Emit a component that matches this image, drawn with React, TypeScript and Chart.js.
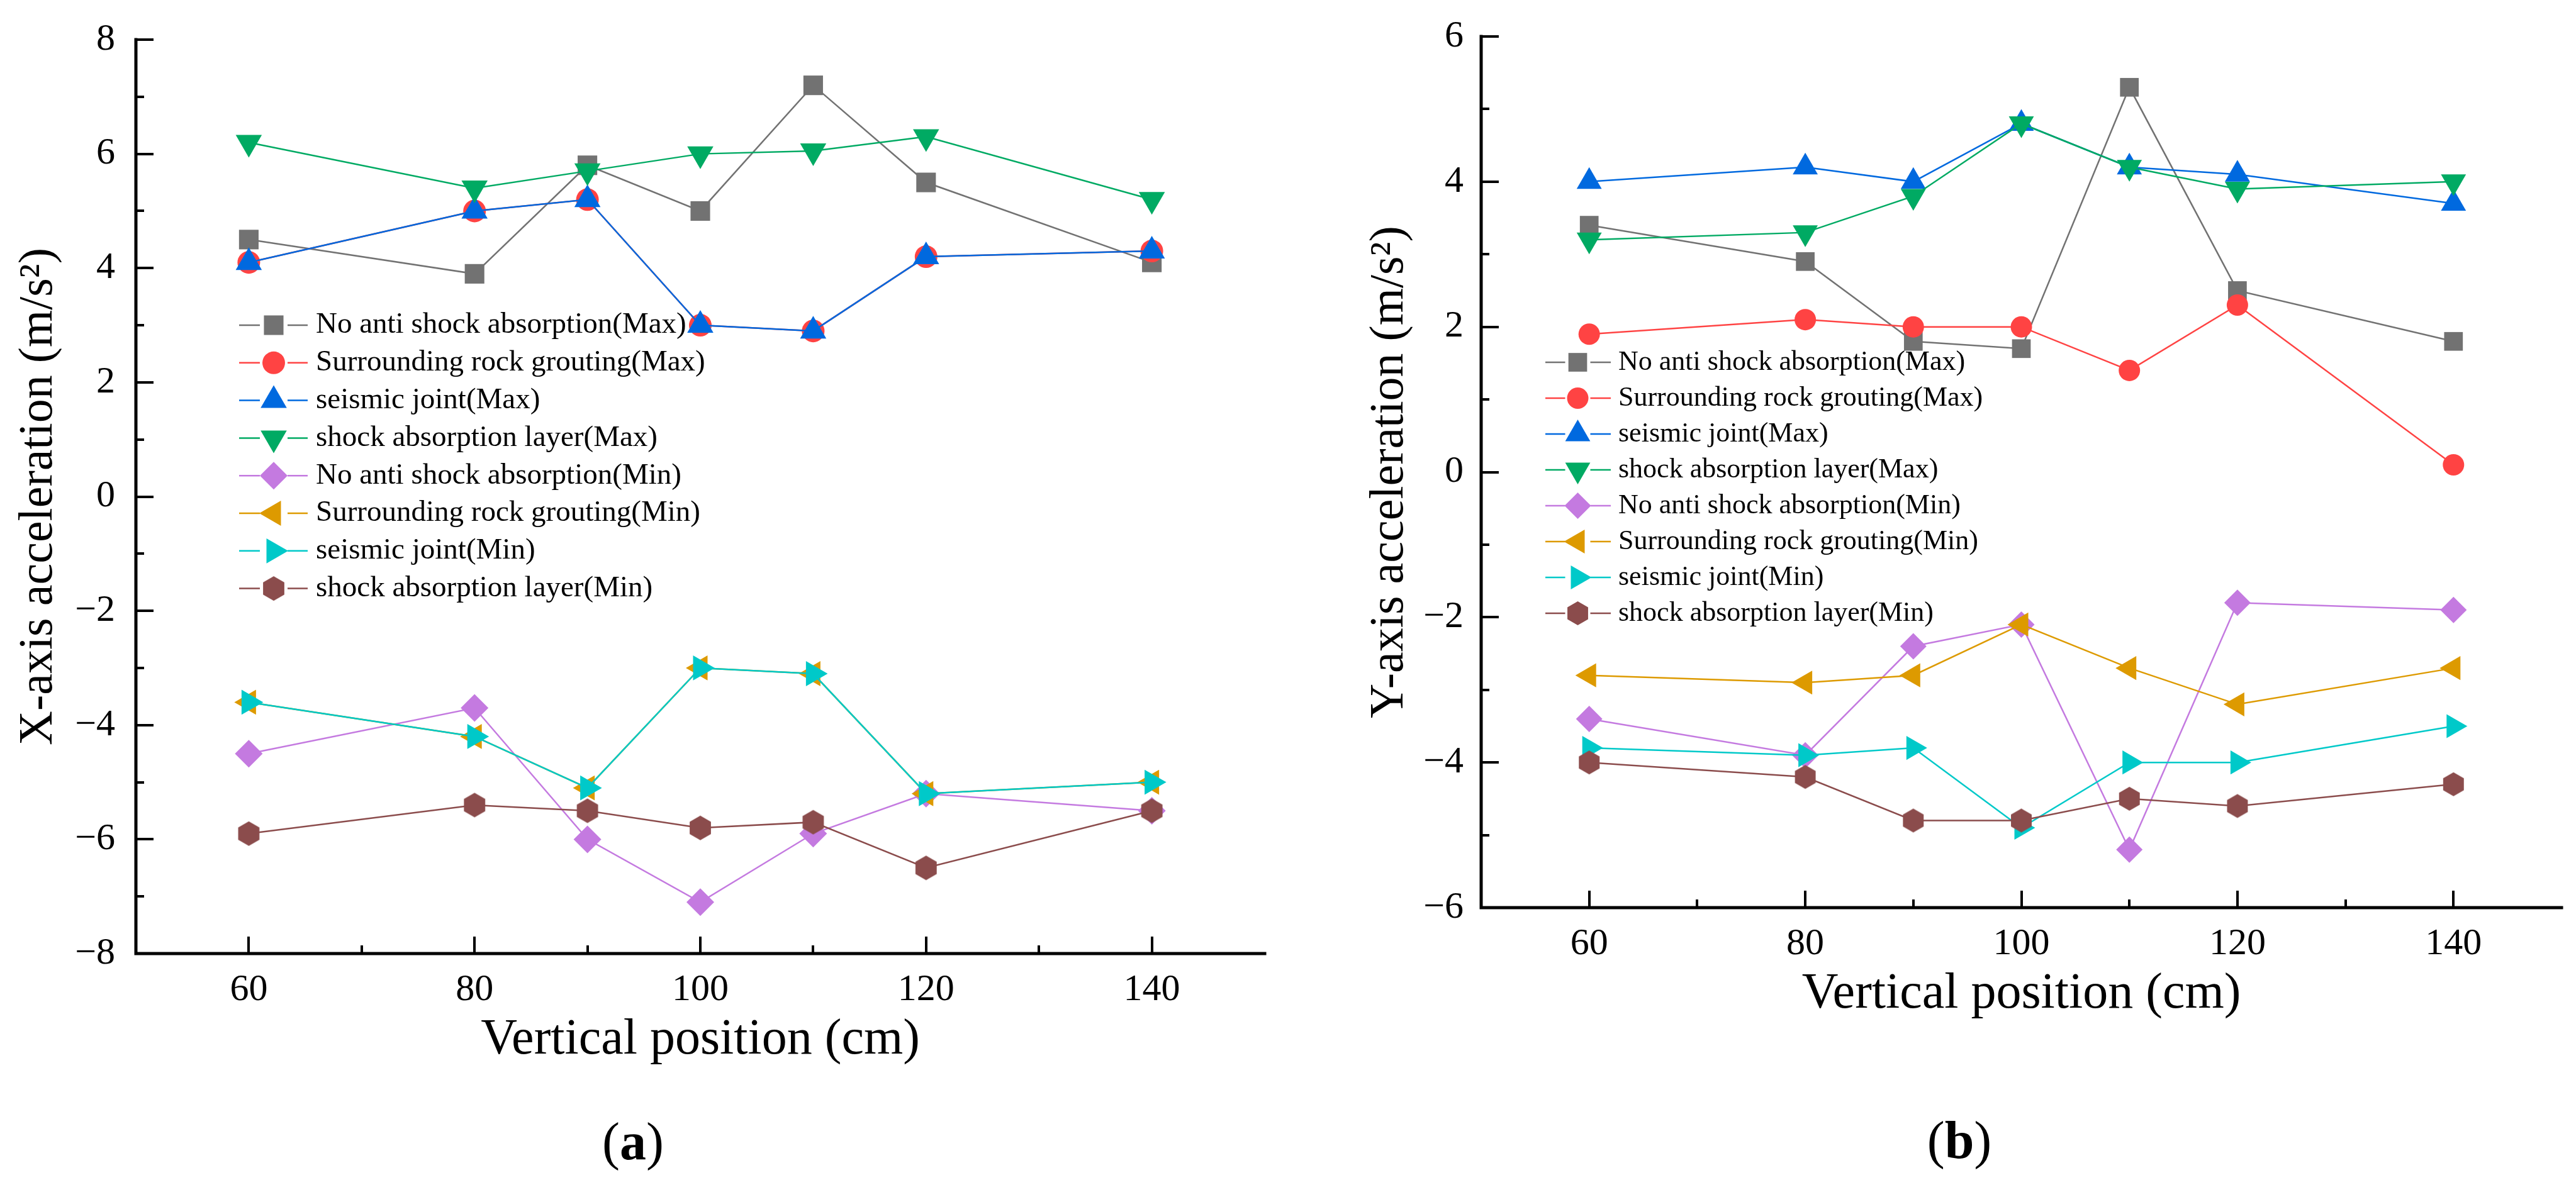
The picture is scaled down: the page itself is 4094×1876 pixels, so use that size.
import { useEffect, useRef } from 'react'
import Chart from 'chart.js/auto'
import { drawPoint } from 'chart.js/helpers'

const positions = [60, 80, 90, 100, 110, 120, 140]
const xTickValues = [60, 80, 100, 120, 140]
const xMinorTickValues = [70, 90, 110, 130]

const seriesNames = [
  'No anti shock absorption(Max)',
  'Surrounding rock grouting(Max)',
  'seismic joint(Max)',
  'shock absorption layer(Max)',
  'No anti shock absorption(Min)',
  'Surrounding rock grouting(Min)',
  'seismic joint(Min)',
  'shock absorption layer(Min)'
]

// (a) X-axis acceleration
const xNoAntiMax = [4.5, 3.9, 5.8, 5.0, 7.2, 5.5, 4.1]
const xGroutingMax = [4.1, 5.0, 5.2, 3.0, 2.9, 4.2, 4.3]
const xJointMax = [4.1, 5.0, 5.2, 3.0, 2.9, 4.2, 4.3]
const xLayerMax = [6.2, 5.4, 5.7, 6.0, 6.05, 6.3, 5.2]
const xNoAntiMin = [-4.5, -3.7, -6.0, -7.1, -5.9, -5.2, -5.5]
const xGroutingMin = [-3.6, -4.2, -5.1, -3.0, -3.1, -5.2, -5.0]
const xJointMin = [-3.6, -4.2, -5.1, -3.0, -3.1, -5.2, -5.0]
const xLayerMin = [-5.9, -5.4, -5.5, -5.8, -5.7, -6.5, -5.5]
const xPanelTicks = [-8, -6, -4, -2, 0, 2, 4, 6, 8]
const xPanelMinorTicks = [-7, -5, -3, -1, 1, 3, 5, 7]

// (b) Y-axis acceleration
const yNoAntiMax = [3.4, 2.9, 1.8, 1.7, 5.3, 2.5, 1.8]
const yGroutingMax = [1.9, 2.1, 2.0, 2.0, 1.4, 2.3, 0.1]
const yJointMax = [4.0, 4.2, 4.0, 4.8, 4.2, 4.1, 3.7]
const yLayerMax = [3.2, 3.3, 3.8, 4.8, 4.2, 3.9, 4.0]
const yNoAntiMin = [-3.4, -3.9, -2.4, -2.1, -5.2, -1.8, -1.9]
const yGroutingMin = [-2.8, -2.9, -2.8, -2.1, -2.7, -3.2, -2.7]
const yJointMin = [-3.8, -3.9, -3.8, -4.9, -4.0, -4.0, -3.5]
const yLayerMin = [-4.0, -4.2, -4.8, -4.8, -4.5, -4.6, -4.3]
const yPanelTicks = [-6, -4, -2, 0, 2, 4, 6]
const yPanelMinorTicks = [-5, -3, -1, 1, 3, 5]

const seriesColors = ['#727272', '#ff4343', '#0069df', '#00aa63', '#c47ae0', '#dd9a00', '#00c9c9', '#8b4c4c']
const pointStyles = ['rect', 'circle', 'triangle', 'triangle', 'rectRot', 'triangle', 'triangle', 'hexagon']
const pointRotations = [0, 0, 0, 180, 0, 270, 90, 0]

const FONT = "'Liberation Serif', 'Times New Roman', serif"
Chart.defaults.font.family = FONT
Chart.defaults.color = '#000'

function makeHexagon(color: string, r: number) {
  const w = Math.ceil(Math.sqrt(3) * r) + 2
  const h = Math.ceil(2 * r) + 2
  const c = document.createElement('canvas')
  c.width = w
  c.height = h
  const g = c.getContext('2d')!
  g.fillStyle = color
  g.beginPath()
  for (let k = 0; k < 6; k++) {
    const a = (Math.PI / 3) * k - Math.PI / 2
    const px = w / 2 + r * Math.cos(a)
    const py = h / 2 + r * Math.sin(a)
    if (k === 0) g.moveTo(px, py)
    else g.lineTo(px, py)
  }
  g.closePath()
  g.fill()
  return c
}

const fmt = (v: number) => (v < 0 ? '\u2212' + Math.abs(v) : String(v))

type LegendLayout = { x0: number; x1: number; marker: number; hole: number; text: number; y0: number; gap: number; font: number }

type PanelProps = {
  series: number[][]
  yTicks: number[]
  yMinorTicks: number[]
  yTitle: string
  left: number
  width: number
  height: number
  areaTop: number
  areaRight: number
  yAxisWidth: number
  yTitlePad: number
  yTickPad: number
  radii: number[]
  legend: LegendLayout
}

function Panel(props: PanelProps) {
  const canvasRef = useRef<HTMLCanvasElement>(null)
  const chartRef = useRef<Chart | null>(null)

  useEffect(() => {
    if (!canvasRef.current) return
    const ctx = canvasRef.current.getContext('2d')
    if (!ctx) return
    const { series, yTicks, yMinorTicks, radii, legend } = props
    const hex = makeHexagon(seriesColors[7], radii[7])

    const frame = {
      id: 'frame',
      afterDraw(chart: any) {
        const c = chart.ctx as CanvasRenderingContext2D
        const xs = chart.scales.x
        const ys = chart.scales.y
        const area = chart.chartArea
        c.save()
        c.strokeStyle = '#000'
        c.lineCap = 'butt'
        c.lineWidth = 4
        const xTick = (v: number, len: number) => {
          const p = Math.round(xs.getPixelForValue(v))
          c.beginPath()
          c.moveTo(p, area.bottom)
          c.lineTo(p, area.bottom - len)
          c.stroke()
        }
        const yTick = (v: number, len: number) => {
          const p = Math.round(ys.getPixelForValue(v))
          c.beginPath()
          c.moveTo(area.left, p)
          c.lineTo(area.left + len, p)
          c.stroke()
        }
        xTickValues.forEach((v) => xTick(v, 27))
        xMinorTickValues.forEach((v) => xTick(v, 13))
        yTicks.forEach((v) => yTick(v, 28))
        yMinorTicks.forEach((v) => yTick(v, 13))
        c.lineWidth = 5
        c.lineCap = 'square'
        c.beginPath()
        c.moveTo(area.left, area.top)
        c.lineTo(area.left, area.bottom)
        c.lineTo(area.right, area.bottom)
        c.stroke()

        // legend inside the plot
        c.lineCap = 'butt'
        series.forEach((_, i) => {
          const y = legend.y0 + i * legend.gap
          c.strokeStyle = seriesColors[i]
          c.fillStyle = seriesColors[i]
          c.lineWidth = 2.5
          c.beginPath()
          c.moveTo(legend.x0, y)
          c.lineTo(legend.marker - legend.hole, y)
          c.moveTo(legend.marker + legend.hole, y)
          c.lineTo(legend.x1, y)
          c.stroke()
          drawPoint(c, {
            pointStyle: i === 7 ? hex : pointStyles[i],
            rotation: pointRotations[i],
            radius: radii[i],
            borderWidth: 0
          } as any, legend.marker, y)
          c.fillStyle = '#000'
          c.font = `${legend.font}px ${FONT}`
          c.textBaseline = 'middle'
          c.textAlign = 'left'
          c.fillText(seriesNames[i], legend.text, y)
        })
        c.restore()
      }
    }

    chartRef.current = new Chart(ctx, {
      type: 'line',
      data: {
        datasets: series.map((vals, i) => ({
          label: seriesNames[i],
          data: positions.map((x, j) => ({ x, y: vals[j] })),
          borderColor: seriesColors[i],
          backgroundColor: seriesColors[i],
          borderWidth: 2.5,
          pointStyle: (i === 7 ? hex : pointStyles[i]) as any,
          pointRotation: pointRotations[i],
          pointRadius: radii[i],
          pointBackgroundColor: seriesColors[i],
          pointBorderColor: seriesColors[i],
          pointBorderWidth: 0,
          tension: 0,
          fill: false,
          order: -i,
          clip: false as any
        }))
      },
      options: {
        animation: false,
        responsive: false,
        devicePixelRatio: 1,
        events: [],
        layout: { padding: { top: props.areaTop, right: props.width - props.areaRight, bottom: 0, left: 0 } },
        plugins: {
          legend: { display: false },
          tooltip: { enabled: false }
        },
        scales: {
          x: {
            type: 'linear',
            min: 50,
            max: 150,
            afterBuildTicks: (s: any) => {
              s.ticks = xTickValues.map((value) => ({ value }))
            },
            afterFit: (s: any) => {
              s.height = 186
            },
            grid: { display: false, drawTicks: false },
            border: { display: false },
            ticks: {
              color: '#000',
              autoSkip: false,
              maxRotation: 0,
              padding: 28,
              font: { family: FONT, size: 60, lineHeight: 1 },
              callback: (v: any) => fmt(Number(v))
            },
            title: {
              display: true,
              text: 'Vertical position (cm)',
              color: '#000',
              font: { family: FONT, size: 80, lineHeight: 1 },
              padding: { top: 0, bottom: 8 }
            }
          },
          y: {
            type: 'linear',
            min: yTicks[0],
            max: yTicks[yTicks.length - 1],
            afterBuildTicks: (s: any) => {
              s.ticks = yTicks.map((value) => ({ value }))
            },
            afterFit: (s: any) => {
              s.width = props.yAxisWidth
            },
            grid: { display: false, drawTicks: false },
            border: { display: false },
            ticks: {
              color: '#000',
              autoSkip: false,
              padding: props.yTickPad,
              font: { family: FONT, size: 60, lineHeight: 1 },
              callback: (v: any) => fmt(Number(v))
            },
            title: {
              display: true,
              text: props.yTitle,
              color: '#000',
              font: { family: FONT, size: 76, lineHeight: 1 },
              padding: { top: props.yTitlePad, bottom: 0 }
            }
          }
        }
      },
      plugins: [frame]
    })

    return () => {
      if (chartRef.current) chartRef.current.destroy()
    }
  }, [])

  return (
    <div style={{ position: 'absolute', left: props.left, top: 0, width: props.width, height: props.height }}>
      <canvas ref={canvasRef} width={props.width} height={props.height} style={{ width: props.width, height: props.height }}></canvas>
    </div>
  )
}

const captionStyle = {
  position: 'absolute' as const,
  transform: 'translate(-50%, -50%)',
  fontFamily: FONT,
  fontSize: '84px',
  color: '#000',
  lineHeight: 1,
  whiteSpace: 'nowrap' as const
}

export default function App() {
  return (
    <div style={{ position: 'absolute', left: 0, top: 0, width: 4094, height: 1876, background: '#fff', overflow: 'hidden' }}>
      <Panel
        series={[xNoAntiMax, xGroutingMax, xJointMax, xLayerMax, xNoAntiMin, xGroutingMin, xJointMin, xLayerMin]}
        yTicks={xPanelTicks}
        yMinorTicks={xPanelMinorTicks}
        yTitle="X-axis acceleration (m/s²)"
        left={0}
        width={2050}
        height={1702}
        areaTop={62}
        areaRight={2010}
        yAxisWidth={216}
        yTitlePad={24}
        yTickPad={33}
        radii={[22, 18, 24, 24, 22, 23, 23, 19.5]}
        legend={{ x0: 380, x1: 489, marker: 435, hole: 22, text: 502, y0: 517, gap: 59.8, font: 47 }}
      />
      <Panel
        series={[yNoAntiMax, yGroutingMax, yJointMax, yLayerMax, yNoAntiMin, yGroutingMin, yJointMin, yLayerMin]}
        yTicks={yPanelTicks}
        yMinorTicks={yPanelMinorTicks}
        yTitle="Y-axis acceleration (m/s²)"
        left={2050}
        width={2044}
        height={1629}
        areaTop={54}
        areaRight={2021}
        yAxisWidth={304}
        yTitlePad={121}
        yTickPad={28}
        radii={[21, 17, 23, 23, 21, 22, 22, 19]}
        legend={{ x0: 406, x1: 510, marker: 457.5, hole: 20, text: 522, y0: 576, gap: 57, font: 44 }}
      />
      <div style={{ ...captionStyle, left: 1006, top: 1815 }}>(<b>a</b>)</div>
      <div style={{ ...captionStyle, left: 3114, top: 1813 }}>(<b>b</b>)</div>
    </div>
  )
}
